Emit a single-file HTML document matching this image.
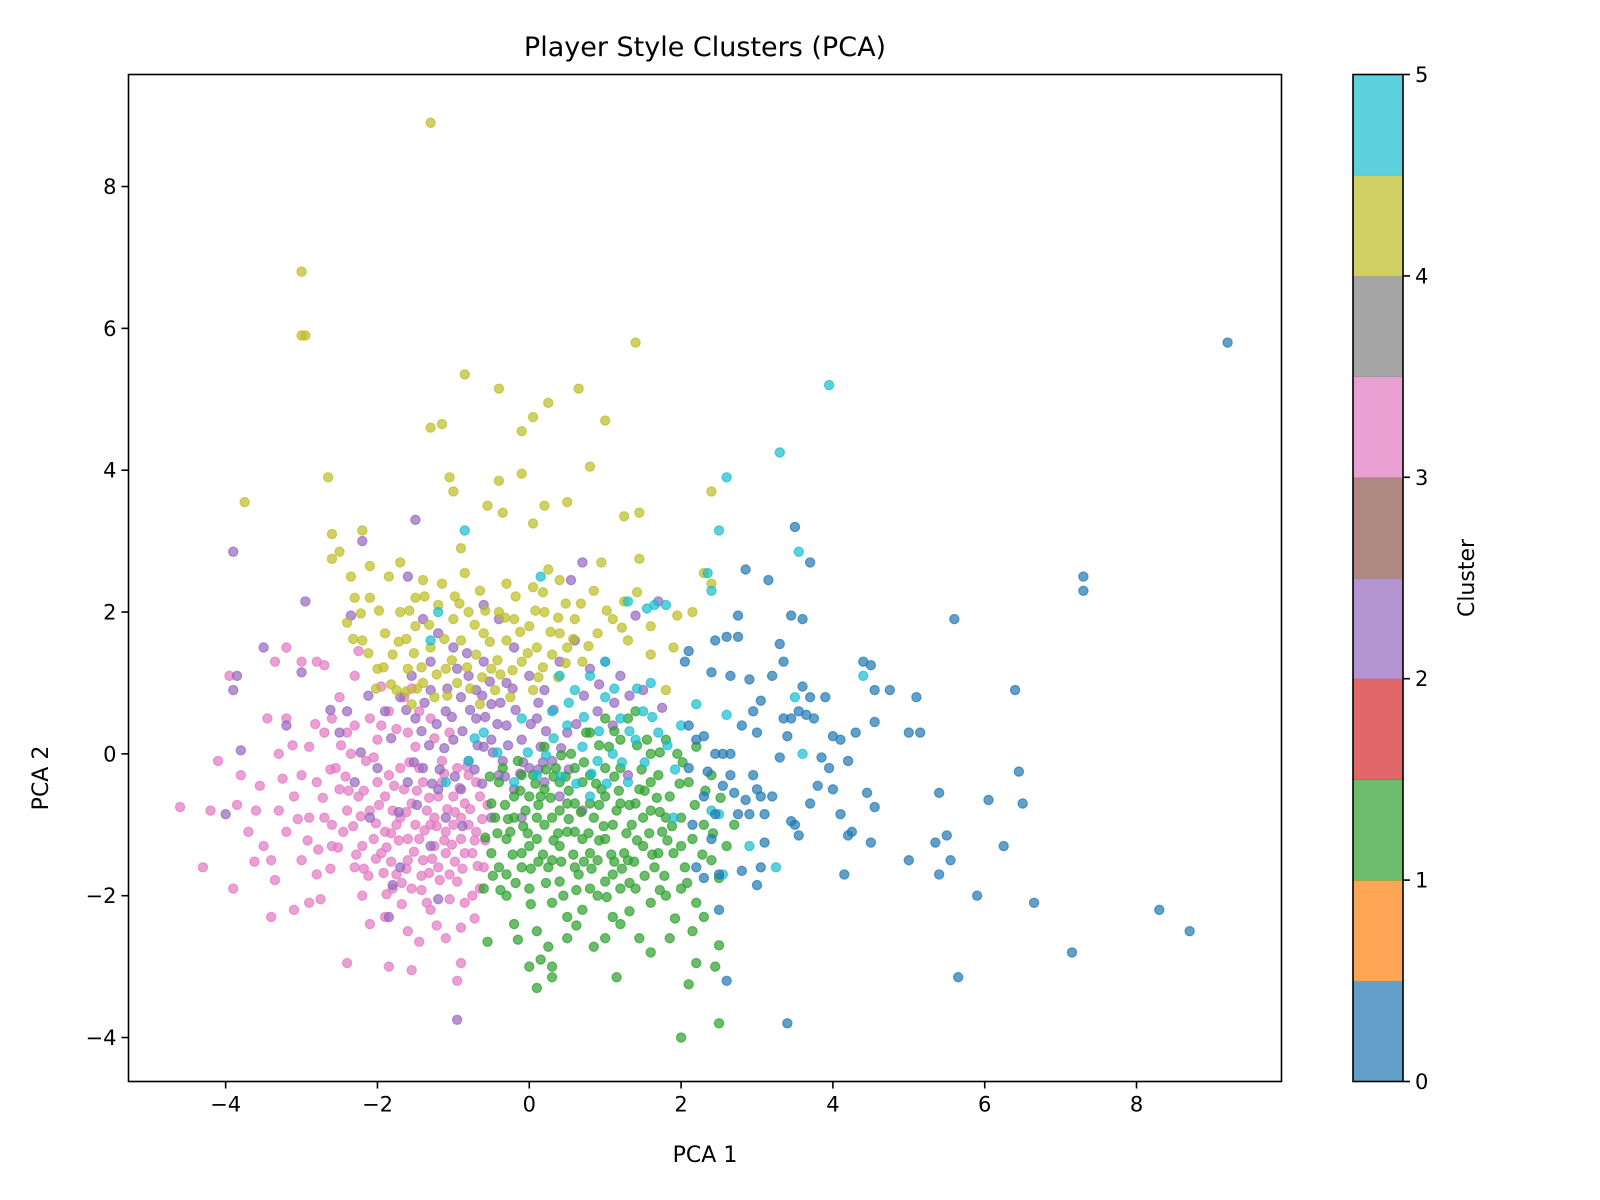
<!DOCTYPE html>
<html><head><meta charset="utf-8"><style>
body{margin:0;background:#fff}
svg{display:block;font-family:"DejaVu Sans","Liberation Sans",sans-serif}
</style></head><body>
<svg id="chart" width="1600" height="1200" viewBox="0 0 1600 1200" xmlns="http://www.w3.org/2000/svg">
<rect width="1600" height="1200" fill="#fff"/>
<text x="705" y="56" font-size="27" text-anchor="middle">Player Style Clusters (PCA)</text>
<g id="points"></g>
<rect x="128.5" y="74.5" width="1153" height="1007" fill="none" stroke="#000" stroke-width="1.6"/>
<g id="xticks"></g>
<g id="yticks"></g>
<text x="705" y="1162" font-size="22" text-anchor="middle">PCA 1</text>
<text x="0" y="0" font-size="22" text-anchor="middle" transform="translate(48,778) rotate(-90)">PCA 2</text>
<g id="colorbar"></g>
<text x="0" y="0" font-size="22" text-anchor="middle" transform="translate(1474,578) rotate(-90)">Cluster</text>
</svg>
<script>
const xTicks=[-4,-2,0,2,4,6,8];
const yTicks=[-4,-2,0,2,4,6,8];
const cbTicks=[0,1,2,3,4,5];
const clusterColors=["#1f77b4","#2ca02c","#9467bd","#e377c2","#bcbd22","#17becf"];
const cbBands=["#1f77b4","#ff7f0e","#2ca02c","#d62728","#9467bd","#8c564b","#e377c2","#7f7f7f","#bcbd22","#17becf"];
const cluster3=[[-4.6,-0.75],[-4.3,-1.6],[-3.9,-1.9],[-4.2,-0.8],[-4.1,-0.1],[-3.55,-0.45],[-3.4,-2.3],[-3.1,-2.2],[-2.75,-2.05],[-2.9,-2.1],[-2.4,-2.95],[-1.85,-3.0],[-1.55,-3.05],[-1.45,-2.65],[-1.1,-2.6],[-0.9,-2.95],[-0.95,-3.2],[-0.9,-2.45],[-3.2,1.5],[-3.35,1.3],[-3.0,1.3],[-2.8,1.3],[-2.7,1.25],[-2.25,1.45],[-2.3,1.1],[-3.2,0.5],[-3.45,0.5],[-3.95,1.1],[-3.3,0.0],[-3.6,-0.8],[-3.5,-1.3],[-3.4,-1.5],[-3.2,-1.1],[-3.1,-0.6],[-3.0,-0.3],[-2.9,0.1],[-2.8,-0.4],[-2.7,-0.9],[-2.6,-1.3],[-2.5,-0.5],[-2.4,0.3],[-2.3,-1.6],[-2.2,-2.0],[-2.15,-0.1],[-2.1,-0.8],[-2.0,0.2],[-1.95,-1.4],[-1.9,-0.6],[-1.85,0.6],[-1.8,-1.9],[-1.75,-1.0],[-1.7,-0.2],[-1.65,0.8],[-1.6,-1.5],[-1.55,-0.7],[-1.5,0.1],[-1.45,-1.2],[-1.4,-0.4],[-1.35,-2.1],[-1.3,0.5],[-1.25,-0.9],[-1.2,-1.6],[-1.15,-0.1],[-1.1,-1.1],[-1.05,0.3],[-1.0,-0.6],[-0.95,-1.8],[-0.9,-0.9],[-0.85,-1.4],[-0.8,-0.3],[-0.75,-2.0],[-0.7,-1.1],[-0.65,-0.6],[-0.6,-1.6],[-2.9,-0.9],[-2.8,-1.7],[-2.6,0.5],[-2.55,-0.2],[-2.45,-1.1],[-2.35,0.0],[-2.25,-0.6],[-2.05,-1.2],[-1.95,0.4],[-1.85,-0.3],[-1.75,-1.7],[-1.65,-0.5],[-1.55,-1.9],[-1.45,0.6],[-1.35,-0.8],[-1.25,-1.3],[-1.15,-0.4],[-1.05,-1.7],[-0.95,-0.2],[-0.85,-0.7],[-0.75,-1.4],[-0.65,-1.9],[-1.6,-1.2],[-1.7,-0.9],[-1.9,-1.1],[-2.0,-0.4],[-2.2,-1.3],[-1.4,-1.5],[-1.3,-1.0],[-1.2,-0.6],[-1.1,-1.4],[-1.0,-1.0],[-0.9,-1.2],[-0.8,-1.0],[-0.7,-0.4],[-1.5,-1.0],[-1.8,-0.8],[-2.1,0.5],[-2.3,0.4],[-2.5,0.8],[-2.7,0.3],[-3.0,-1.5],[-3.3,-0.8],[-3.7,-1.1],[-3.8,-0.3],[-2.1,-2.4],[-1.9,-2.3],[-1.6,-2.5],[-1.3,-2.2],[-0.85,-2.1],[-2.6,-1.0],[-2.4,-0.8],[-1.45,-0.2],[-1.6,0.3]];
const cluster3b=[[-2.05,-0.05],[-1.98,-0.72],[-1.88,-1.32],[-1.78,-0.45],[-1.72,-1.22],[-1.62,-0.82],[-1.52,-1.38],[-1.48,-0.52],[-1.38,-1.08],[-1.32,-0.62],[-1.22,-1.02],[-1.18,-1.78],[-1.08,-0.78],[-1.02,-1.28],[-0.92,-0.48],[-0.88,-1.62],[-0.78,-0.78],[-0.72,-1.22],[-0.68,-1.58],[-0.62,-0.92],[-2.42,-0.32],[-2.32,-1.02],[-2.28,-1.42],[-2.18,-0.52],[-2.12,-1.72],[-2.02,-0.98],[-1.92,-1.68],[-1.82,-1.52],[-1.68,-1.82],[-1.58,-0.12],[-1.42,-1.72],[-1.28,-1.48],[-1.12,-0.28],[-0.98,-0.82],[-0.82,-0.18],[-2.72,-0.62],[-2.62,-1.62],[-2.52,-1.32],[-2.48,0.12],[-2.38,-0.52],[-2.92,-1.22],[-3.05,-0.92],[-3.12,0.12],[-3.25,-0.35],[-2.78,-1.35],[-1.75,0.35],[-1.95,0.95],[-1.55,0.92],[-1.25,0.22],[-1.05,-2.05],[-1.42,-1.92],[-1.68,-2.12],[-1.88,-1.98],[-2.18,-1.62],[-0.72,-2.32],[-1.22,-2.42],[-0.58,-1.22],[-0.55,-0.72],[-2.02,-1.48],[-1.32,-1.68],[-1.12,-1.22],[-0.98,-1.52],[-1.62,-1.62],[-1.82,-1.12],[-2.22,-0.88],[-2.62,-0.22],[-2.82,0.42],[-3.35,-1.78],[-3.62,-1.52],[-3.85,-0.72]];
const cluster2=[[-3.9,2.85],[-2.95,2.15],[-1.5,3.3],[-3.85,1.1],[-3.9,0.9],[-3.5,1.5],[-3.8,0.05],[-3.0,1.15],[-0.95,-3.75],[-1.2,-2.05],[-1.85,-2.3],[0.7,2.7],[1.4,1.95],[1.7,2.15],[1.75,0.65],[-2.2,3.0],[-2.35,1.95],[-4.0,-0.85],[-3.2,0.4],[-2.4,0.6],[-2.3,-0.4],[-1.8,-1.85],[-1.6,2.5],[-1.4,1.9],[-1.2,1.7],[-1.0,1.5],[-0.8,1.1],[-0.6,1.3],[-0.4,1.9],[-0.2,1.5],[0.0,1.1],[0.2,0.9],[0.4,1.3],[0.6,1.6],[0.8,1.2],[1.0,1.3],[1.2,1.1],[1.5,0.9],[-1.7,0.8],[-1.5,0.5],[-1.3,0.9],[-1.1,0.6],[-0.9,0.8],[-0.7,0.5],[-0.5,0.7],[-0.3,0.4],[-0.1,0.2],[0.1,0.5],[0.3,-0.1],[0.5,0.3],[-1.0,0.2],[-0.8,-0.1],[-0.6,0.1],[-0.4,-0.3],[-0.2,-0.5],[0.0,-0.2],[0.2,-0.4],[0.4,-0.6],[-1.4,-0.2],[-1.2,-0.5],[-1.6,-0.4],[-1.1,-0.9],[-0.9,-0.5],[-0.7,0.9],[-0.5,0.2],[-0.3,1.0],[-1.9,0.6],[-2.0,-0.2],[-1.3,1.3],[-0.95,1.2],[0.9,0.6],[1.1,0.4],[1.3,-0.3],[0.7,-0.8],[-0.1,-0.9],[-1.3,-1.3],[-1.7,-1.6],[-2.1,-0.9],[-0.5,-0.9],[0.55,2.45],[-0.6,2.1],[-2.5,0.3],[-1.55,1.1],[-0.35,-0.1],[0.15,0.1]];
const cluster2b=[[-0.88,0.32],[-0.78,0.62],[-0.68,0.12],[-0.58,0.52],[-0.48,0.02],[-0.38,0.72],[-0.28,0.12],[-0.18,0.62],[-0.08,-0.12],[0.02,0.42],[0.12,-0.22],[0.22,0.32],[0.32,0.62],[-1.02,0.52],[-1.12,0.08],[-1.22,0.42],[-1.32,0.12],[-1.42,0.32],[-1.52,-0.12],[-1.18,-0.22],[-0.98,-0.32],[-0.72,-0.22],[-0.62,-0.42],[-0.32,-0.32],[-0.12,-0.28],[0.18,-0.12],[0.42,0.08],[0.62,0.42],[0.72,0.82],[0.92,0.98],[1.12,0.72],[1.32,0.82],[-1.62,0.62],[-1.82,0.22],[-2.12,0.82],[-1.38,0.72],[-0.82,1.42],[-0.52,1.02],[-0.22,0.92],[0.12,0.72],[-1.72,-0.82],[-1.48,-0.72],[-1.28,-0.42],[-0.88,-1.02],[-2.22,0.02],[-2.62,0.62],[-0.42,0.42],[0.52,-0.22],[-1.08,0.92],[-0.62,0.82]];
const cluster4=[[-1.3,8.9],[-3.0,6.8],[-3.0,5.9],[-2.95,5.9],[-0.85,5.35],[-0.4,5.15],[0.25,4.95],[0.65,5.15],[1.4,5.8],[0.05,4.75],[-0.1,4.55],[1.0,4.7],[-1.15,4.65],[-1.3,4.6],[-1.05,3.9],[-1.0,3.7],[-2.65,3.9],[-3.75,3.55],[-0.1,3.95],[-0.4,3.85],[0.5,3.55],[0.8,4.05],[2.4,3.7],[1.45,3.4],[1.25,3.35],[0.2,3.5],[0.05,3.25],[-0.35,3.4],[-0.55,3.5],[-2.6,3.1],[-2.2,3.15],[-2.5,2.85],[-2.6,2.75],[-2.35,2.5],[-2.1,2.2],[-1.4,2.45],[-0.9,2.9],[-0.85,2.55],[0.95,2.7],[1.45,2.75],[2.4,2.4],[2.3,2.55],[2.15,2.0],[1.95,1.95],[1.6,1.8],[1.25,2.15],[0.85,2.3],[0.4,2.45],[0.05,2.35],[-0.3,2.4],[-1.9,1.7],[-1.8,1.4],[-1.7,2.0],[-1.6,1.2],[-1.5,1.8],[-1.4,1.0],[-1.3,1.5],[-1.2,2.1],[-1.1,1.2],[-1.0,1.9],[-0.9,1.6],[-0.8,2.0],[-0.7,1.4],[-0.6,1.7],[-0.5,1.2],[-0.4,2.0],[-0.3,1.6],[-0.2,1.9],[-0.1,1.3],[0.0,1.8],[0.1,1.5],[0.2,2.0],[0.3,1.4],[0.4,1.7],[0.5,1.5],[0.6,1.9],[0.7,1.3],[0.9,1.7],[1.1,1.9],[1.3,1.6],[1.6,1.4],[1.9,1.5],[-2.0,1.2],[-2.2,1.6],[-2.3,2.2],[-2.4,1.85],[-1.75,0.9],[-1.55,0.7],[-1.25,0.8],[-0.95,1.0],[-0.65,0.7],[-0.45,0.9],[-0.25,0.8],[0.05,0.9],[-1.85,2.5],[-1.5,2.2],[-1.15,2.4],[-0.65,2.3],[0.25,2.6],[1.8,0.9],[-1.7,2.7],[-2.1,2.65]];
const cluster4b=[[-1.92,1.22],[-1.82,0.98],[-1.72,1.58],[-1.62,0.88],[-1.52,1.42],[-1.42,1.22],[-1.32,1.82],[-1.22,1.12],[-1.12,1.62],[-1.02,1.32],[-0.92,2.12],[-0.82,1.22],[-0.72,1.82],[-0.62,1.08],[-0.52,1.58],[-0.42,1.32],[-0.32,1.92],[-0.22,1.18],[-0.12,1.72],[-0.02,1.42],[0.08,2.02],[0.18,1.22],[0.28,1.72],[0.38,1.92],[0.48,1.28],[0.58,1.62],[0.68,2.12],[0.78,1.52],[-2.12,1.42],[-2.32,1.62],[-2.22,1.98],[-1.98,2.02],[-1.58,2.02],[-1.38,2.22],[-0.98,2.22],[-0.58,2.02],[-0.18,2.22],[0.18,2.28],[0.48,2.12],[1.02,2.02],[1.22,1.78],[1.42,2.28],[-1.48,0.92],[-1.08,0.82],[-0.78,0.92],[-0.38,1.12],[0.12,1.08],[0.38,1.08],[-2.02,0.92],[-1.62,1.62]];
const cluster5=[[3.95,5.2],[3.3,4.25],[2.6,3.9],[2.5,3.15],[-0.85,3.15],[3.55,2.85],[2.35,2.55],[2.4,2.3],[1.65,2.1],[1.55,2.05],[1.8,2.1],[1.3,2.15],[0.15,2.5],[-1.2,2.0],[2.6,0.55],[4.4,1.1],[3.5,0.8],[3.25,-1.6],[3.6,0.0],[2.0,0.4],[2.55,-1.7],[2.5,-0.85],[2.4,-0.8],[0.4,1.1],[0.6,0.9],[0.8,1.1],[1.0,0.8],[1.2,0.5],[1.4,0.2],[1.6,1.0],[0.5,0.4],[0.7,0.1],[0.9,-0.1],[1.1,0.0],[1.3,-0.4],[1.5,0.6],[1.7,0.3],[0.3,0.6],[-0.2,-0.4],[-0.6,0.3],[-0.8,-0.1],[-1.1,-0.4],[0.1,-0.3],[1.9,-0.9],[2.2,0.7],[1.0,1.3],[0.8,-0.6],[-0.1,0.5],[-1.3,1.6],[2.9,-1.3]];
const cluster5b=[[0.72,0.52],[0.92,0.32],[1.12,0.92],[1.32,0.32],[1.52,-0.12],[0.52,0.72],[0.82,-0.28],[1.02,-0.42],[1.22,-0.12],[1.62,0.52],[0.22,-0.02],[-0.42,0.02],[-0.72,0.22],[1.82,0.12],[0.62,-0.42],[0.32,0.22],[1.42,0.92],[-0.02,0.02],[1.92,-0.22],[0.42,-0.32]];
const cluster1=[[2.0,-4.0],[2.5,-3.8],[2.1,-3.25],[0.1,-3.3],[0.3,-3.15],[0.3,-3.0],[0.15,-2.9],[0.0,-3.0],[1.15,-3.15],[2.45,-3.0],[2.5,-2.7],[2.2,-2.95],[2.15,-2.5],[1.6,-2.8],[1.45,-2.6],[1.2,-2.4],[1.1,-2.3],[-0.2,-2.4],[-0.55,-2.65],[0.5,-2.3],[0.3,-2.1],[2.5,-1.75],[2.0,-1.9],[-0.6,-1.9],[-0.5,-1.4],[-0.45,-0.9],[-0.4,-0.4],[-0.3,-1.7],[-0.25,-1.1],[-0.2,-0.6],[-0.15,-0.1],[-0.1,-1.4],[-0.05,-0.8],[0.0,-1.9],[0.05,-0.3],[0.1,-1.2],[0.15,-0.6],[0.2,0.1],[0.25,-1.6],[0.3,-0.9],[0.35,-0.2],[0.4,-1.3],[0.45,-2.0],[0.5,-0.7],[0.55,0.0],[0.6,-1.1],[0.65,-1.7],[0.7,-0.4],[0.75,0.3],[0.8,-1.4],[0.85,-0.9],[0.9,-2.0],[0.95,-0.5],[1.0,-1.2],[1.05,0.1],[1.1,-1.7],[1.15,-0.8],[1.2,-0.2],[1.25,-1.4],[1.3,0.5],[1.35,-1.0],[1.4,-1.9],[1.45,-0.5],[1.5,-1.3],[1.55,0.2],[1.6,-0.8],[1.65,-1.6],[1.7,-0.3],[1.75,-1.1],[1.8,-2.0],[1.85,-0.6],[1.9,-1.4],[1.95,0.0],[2.0,-0.9],[2.05,-1.6],[2.1,-0.4],[2.15,-1.2],[2.2,-2.1],[2.3,-1.0],[2.4,-1.5],[2.6,-1.3],[2.7,-1.0],[-0.35,-0.2],[-0.1,-0.3],[0.2,-0.5],[0.4,-0.4],[0.6,-0.2],[0.8,-0.7],[1.0,-0.6],[0.3,-1.5],[0.5,-1.1],[0.7,-1.2],[0.9,-1.5],[1.1,-1.0],[1.3,-1.5],[1.5,-0.9],[1.7,-1.4],[0.1,-0.9],[-0.1,-1.6],[-0.3,-1.2],[-0.5,-0.7],[0.6,-1.6],[0.8,-1.9],[1.2,-1.9],[1.4,-0.7],[1.6,-0.4],[1.8,-0.9],[2.0,-1.3],[0.0,-0.6],[0.2,-1.0],[0.4,-0.8],[0.6,-0.7],[0.8,-0.3],[1.0,-0.2],[1.2,-0.7],[-0.2,-0.9],[-0.4,-1.6],[0.0,-1.3],[0.4,-1.8],[1.0,-1.8],[1.6,-2.1],[1.2,0.2],[1.4,0.6],[1.0,0.5],[0.8,0.3],[1.6,0.0],[1.8,0.2],[2.2,0.1],[2.4,-0.3],[0.5,-2.6],[1.0,-2.6],[-0.3,-2.0],[0.7,-2.2],[1.85,-2.6],[2.3,-2.3],[0.1,-2.5]];
const cluster1b=[[-0.52,-0.32],[-0.42,-1.12],[-0.32,-0.72],[-0.22,-1.42],[-0.12,-0.52],[-0.02,-1.12],[0.08,-0.42],[0.18,-1.42],[0.28,-0.62],[0.38,-1.12],[0.48,-0.32],[0.58,-1.42],[0.68,-0.82],[0.78,-1.12],[0.88,-0.42],[0.98,-1.02],[1.08,-1.42],[1.18,-0.52],[1.28,-1.12],[1.38,-1.52],[1.48,-0.22],[1.58,-1.12],[1.68,-0.62],[1.78,-1.72],[1.88,-1.02],[1.98,-0.42],[2.08,-1.82],[2.18,-0.72],[2.28,-1.42],[-0.48,-1.72],[-0.38,-1.92],[-0.18,-1.82],[0.02,-1.62],[0.22,-1.82],[0.42,-1.52],[0.62,-1.92],[0.82,-1.62],[1.02,-2.02],[1.22,-1.62],[1.42,-1.22],[1.62,-1.42],[1.82,-1.22],[0.12,-0.72],[0.32,-0.32],[0.52,-0.52],[0.72,-0.12],[0.92,-0.72],[1.12,-0.32],[1.32,-0.72],[1.52,-0.52],[1.72,-0.82],[0.22,-0.22],[-0.28,-0.92],[-0.08,-1.02],[0.12,-1.52],[0.32,-1.22],[0.52,-0.92],[0.72,-1.52],[0.92,-1.22],[1.12,-1.52],[1.32,-1.82],[1.52,-1.72],[1.72,-1.92],[0.02,-2.12],[0.62,-2.42],[1.32,-2.22],[1.92,-2.32],[2.42,-1.12],[2.52,-0.62],[-0.58,-1.18],[0.42,-0.02],[0.92,0.12],[1.42,0.12],[1.12,0.32],[1.72,0.02],[2.02,-0.12],[2.32,-0.52],[0.25,-2.72],[0.85,-2.72],[-0.15,-2.62]];
const cluster0=[[9.2,5.8],[7.3,2.5],[7.3,2.3],[6.4,0.9],[6.45,-0.25],[6.5,-0.7],[6.05,-0.65],[6.25,-1.3],[6.65,-2.1],[5.9,-2.0],[5.65,-3.15],[7.15,-2.8],[8.3,-2.2],[8.7,-2.5],[5.6,1.9],[5.1,0.8],[5.15,0.3],[5.0,0.3],[4.75,0.9],[4.55,0.9],[4.5,1.25],[4.4,1.3],[4.55,0.45],[4.3,0.3],[4.1,0.2],[4.0,0.25],[4.2,-0.1],[3.95,-0.2],[3.85,-0.05],[3.9,0.8],[3.7,0.8],[3.65,0.55],[3.6,0.95],[3.75,0.5],[3.55,0.6],[3.6,1.9],[3.45,1.95],[3.5,3.2],[3.7,2.7],[2.85,2.6],[3.15,2.45],[2.6,1.65],[2.45,1.6],[2.75,1.95],[2.75,1.65],[3.3,1.55],[3.35,1.3],[3.2,1.1],[2.9,1.05],[2.65,1.1],[2.4,1.15],[3.05,0.75],[3.45,0.5],[3.35,0.5],[3.4,0.25],[3.3,-0.05],[3.0,-0.5],[3.05,-0.6],[2.9,-0.85],[3.1,-0.85],[3.45,-0.95],[3.5,-1.0],[3.55,-1.15],[3.8,-0.45],[3.7,-0.7],[4.0,-0.5],[4.25,-1.1],[4.2,-1.15],[4.45,-0.55],[4.55,-0.75],[4.5,-1.25],[4.15,-1.7],[5.0,-1.5],[5.35,-1.25],[5.4,-1.7],[5.5,-1.15],[5.55,-1.5],[5.4,-0.55],[4.1,-0.85],[3.05,-1.6],[2.8,-1.65],[3.0,-1.85],[2.5,-2.2],[2.6,-3.2],[3.4,-3.8],[2.3,-1.75],[2.2,-1.6],[2.5,-1.7],[2.4,-1.2],[2.15,-1.0],[2.45,-0.85],[2.3,-0.6],[2.55,-0.45],[2.7,-0.55],[2.65,-0.3],[2.55,0.0],[2.45,0.0],[2.65,0.0],[2.1,0.4],[2.2,0.2],[2.3,0.25],[2.35,-0.25],[2.1,-0.2],[2.75,-0.85],[2.85,-0.65],[2.95,-0.3],[3.1,-1.25],[3.2,-0.6],[2.1,1.45],[2.05,1.3],[2.8,0.4],[3.0,0.3],[2.95,0.6]];
const clusters=[cluster0,cluster1.concat(cluster1b),cluster2.concat(cluster2b),cluster3.concat(cluster3b),cluster4.concat(cluster4b),cluster5.concat(cluster5b)];
const drawOrder=[3,2,4,1,5,0];
const NS="http://www.w3.org/2000/svg";
const X0=128.5,X1=1281.5,Y0=74.5,Y1=1081.5;
const xMin=-5.28,xMax=9.91,yMin=-4.62,yMax=9.58;
function sx(v){return X0+(v-xMin)/(xMax-xMin)*(X1-X0);}
function sy(v){return Y1-(v-yMin)/(yMax-yMin)*(Y1-Y0);}
function mk(tag,attrs,parent){const e=document.createElementNS(NS,tag);for(const k in attrs)e.setAttribute(k,attrs[k]);parent.appendChild(e);return e;}
const pg=document.getElementById('points');
drawOrder.forEach(ci=>{
  clusters[ci].forEach(p=>{
    const c=mk('circle',{cx:sx(p[0]),cy:sy(p[1]),r:4.6,fill:clusterColors[ci],'fill-opacity':0.7,stroke:clusterColors[ci],'stroke-opacity':0.7,'stroke-width':1.2},pg);
    
    
  });
});
const xg=document.getElementById('xticks');
xTicks.forEach(t=>{
  const x=sx(t);
  const l=mk('line',{x1:x,x2:x,y1:Y1,y2:Y1+7,stroke:'#000','stroke-width':1.6},xg);
  
  
  const tx=mk('text',{x:x,y:Y1+30,'font-size':21,'text-anchor':'middle'},xg);
  tx.textContent=t<0?'\u2212'+Math.abs(t):String(t);
  
  
});
const yg=document.getElementById('yticks');
yTicks.forEach(t=>{
  const y=sy(t);
  const l=mk('line',{x1:X0-7,x2:X0,y1:y,y2:y,stroke:'#000','stroke-width':1.6},yg);
  
  
  const tx=mk('text',{x:X0-12,y:y+7.5,'font-size':21,'text-anchor':'end'},yg);
  tx.textContent=t<0?'\u2212'+Math.abs(t):String(t);
  
  
});
const cg=document.getElementById('colorbar');
const CX0=1353,CX1=1403;
cbBands.forEach((col,i)=>{
  const h=(Y1-Y0)/cbBands.length;
  const r=mk('rect',{x:CX0,y:Y1-(i+1)*h,width:CX1-CX0,height:h+0.5,fill:col,'fill-opacity':0.7},cg);
  
  
});
const fr=mk('rect',{x:CX0,y:Y0,width:CX1-CX0,height:Y1-Y0,fill:'none',stroke:'#000','stroke-width':1.6},cg);


cbTicks.forEach(t=>{
  const y=Y1-t/5*(Y1-Y0);
  const l=mk('line',{x1:CX1,x2:CX1+7,y1:y,y2:y,stroke:'#000','stroke-width':1.6},cg);
  
  
  const tx=mk('text',{x:CX1+12,y:y+7.5,'font-size':21},cg);
  tx.textContent=String(t);
  
  
});
</script>
</body></html>
